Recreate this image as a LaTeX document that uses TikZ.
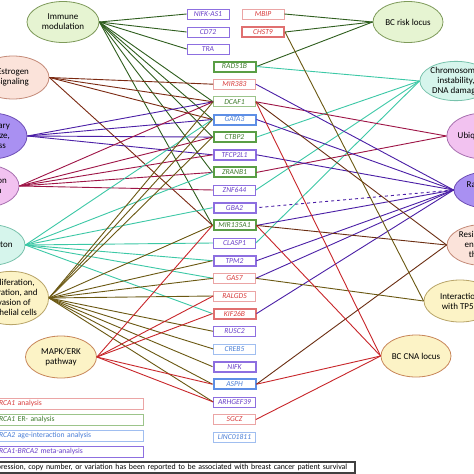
\documentclass[tikz,border=0pt]{standalone}
\usepackage{fontspec}
\setmainfont{Carlito}
\usetikzlibrary{shapes.geometric}
\definecolor{immln}{HTML}{2F5E1E}
\definecolor{estln}{HTML}{7B2A12}
\definecolor{indln}{HTML}{4B1FA6}
\definecolor{crmln}{HTML}{9E1446}
\definecolor{tealln}{HTML}{3CC8A6}
\definecolor{olvln}{HTML}{6B5812}
\definecolor{mapln}{HTML}{C8262A}
\definecolor{resln}{HTML}{6B2E12}
\definecolor{purpbd}{HTML}{8D6FE0}
\definecolor{purptx}{HTML}{6A40C8}
\definecolor{redbd}{HTML}{E07070}
\definecolor{redbdl}{HTML}{EBA5A5}
\definecolor{redtx}{HTML}{D83C3C}
\definecolor{grnbd}{HTML}{5A9E45}
\definecolor{grnbdl}{HTML}{9CC48A}
\definecolor{grntx}{HTML}{3E7A2C}
\definecolor{blubd}{HTML}{5E8FE6}
\definecolor{blubdl}{HTML}{A0BEF0}
\definecolor{blutx}{HTML}{4A7ED6}
\definecolor{lgrn}{HTML}{E6F4D2}
\definecolor{lgrnbd}{HTML}{7E9A5A}
\definecolor{peach}{HTML}{FBE3DA}
\definecolor{peachbd}{HTML}{C48A78}
\definecolor{lpurp}{HTML}{A990F2}
\definecolor{lpurpbd}{HTML}{6E4EB6}
\definecolor{lpink}{HTML}{F2C2F0}
\definecolor{lpinkbd}{HTML}{A870B0}
\definecolor{lcyan}{HTML}{D6F5EC}
\definecolor{lcyanbd}{HTML}{78C2AC}
\definecolor{lyel}{HTML}{FCF3C6}
\definecolor{lyelbd}{HTML}{B8A468}
\definecolor{mapbd}{HTML}{C8865A}
\tikzset{
  ell/.style={ellipse,draw,line width=0.8pt,inner sep=0pt,align=center,
    font=\fontsize{9}{10}\selectfont},
  gene/.style={rectangle,draw,fill=white,minimum width=42pt,minimum height=10pt,
    inner sep=0pt,font=\fontsize{7.6}{8}\selectfont\itshape},
  pgene/.style={gene,draw=purpbd,text=purptx,line width=0.7pt},
  pgeneT/.style={gene,draw=purpbd,text=purptx,line width=2pt},
  rgene/.style={gene,draw=redbdl,text=redtx,line width=0.7pt},
  rgeneT/.style={gene,draw=redbd,text=redtx,line width=2pt},
  ggene/.style={gene,draw=grnbdl,text=grntx,line width=0.7pt},
  ggeneT/.style={gene,draw=grnbd,text=grntx,line width=2pt},
  bgene/.style={gene,draw=blubdl,text=blutx,line width=0.7pt},
  bgeneT/.style={gene,draw=blubd,text=blutx,line width=2pt},
  legbox/.style={rectangle,draw,line width=0.8pt,anchor=west,minimum width=151pt,
    minimum height=11pt,text width=146pt,inner xsep=2.5pt,inner ysep=0pt,align=left,
    font=\fontsize{7.6}{8}\selectfont},
  link/.style={line width=0.9pt}
}
\begin{document}
\begin{tikzpicture}[x=1pt,y=-1pt]
\useasboundingbox (0,0) rectangle (474,474);
\clip (0,0) rectangle (474,474);
\fill[white] (0,0) rectangle (474,474);
% categories, left
\node (imm) [ell,fill=lgrn,draw=lgrnbd,minimum width=72pt,minimum height=41pt] at (63,22) {Immune\\modulation};
\node (est) [ell,fill=peach,draw=peachbd,minimum width=72pt,minimum height=43pt] at (13,77.5) {Estrogen\\signaling};
\node (mam) [ell,fill=lpurp,draw=lpurpbd,minimum width=72pt,minimum height=46pt] at (-9,136) {Mammary\\gland size,\\stiffness};
\node (prt) [ell,fill=lpink,draw=lpinkbd,minimum width=72pt,minimum height=43pt] at (-17,186) {Transcription\\regulation};
\node (cyt) [ell,fill=lcyan,draw=lcyanbd,minimum width=72pt,minimum height=41pt] at (-11,245) {Cytoskeleton};
\node (prol) [ell,fill=lyel,draw=lyelbd,minimum width=74pt,minimum height=42pt] at (11,298) {Proliferation,\\migration, and\\invasion of\\epithelial cells};
\node (mapk) [ell,fill=lyel,draw=mapbd,minimum width=71pt,minimum height=42pt] at (61,357) {MAPK/ERK\\pathway};
% categories, right
\node (risk) [ell,fill=lgrn,draw=lgrnbd,minimum width=70pt,minimum height=41pt] at (408,22) {BC risk locus};
\node (chrom) [ell,fill=lcyan,draw=lcyanbd,minimum width=72pt,minimum height=39pt] at (456,81) {Chromosomal\\instability,\\DNA damage};
\node (ubq) [ell,fill=lpink,draw=lpinkbd,minimum width=74pt,minimum height=46pt] at (484,136) {Ubiquitination};
\node (ras) [ell,fill=lpurp,draw=lpurpbd,minimum width=72pt,minimum height=37pt] at (490,190) {Ras signaling\\pathway};
\node (resi) [ell,fill=peach,draw=peachbd,minimum width=72pt,minimum height=41pt] at (483,245) {Resistance to\\endocrine\\therapy};
\node (tp) [ell,fill=lyel,draw=lyelbd,minimum width=72pt,minimum height=42pt] at (460,301) {Interaction\\with TP53};
\node (cna) [ell,fill=lyel,draw=mapbd,minimum width=70pt,minimum height=42pt] at (416,356) {BC CNA locus};
% genes
\node (nifkas) [pgene] at (208,14) {NIFK-AS1};
\node (cd72) [pgene] at (208,32) {CD72};
\node (tra) [pgene] at (208,49) {TRA};
\node (mbip) [rgene] at (263,14) {MBIP};
\node (chst) [rgeneT] at (263,32) {CHST9};
\node (rad) [ggeneT] at (234.5,66.5) {RAD51B};
\node (mir383) [rgene] at (234.5,84.2) {MIR383};
\node (dcaf) [ggene] at (234.5,101.8) {DCAF1};
\node (gata) [bgeneT] at (234.5,119.5) {GATA3};
\node (ctbp) [ggeneT] at (234.5,137.1) {CTBP2};
\node (tfcp) [pgeneT] at (234.5,154.8) {TFCP2L1};
\node (zranb) [ggeneT] at (234.5,172.4) {ZRANB1};
\node (znf) [pgene] at (234.5,190) {ZNF644};
\node (gba) [pgeneT] at (234.5,207.7) {GBA2};
\node (mir135) [ggeneT] at (234.5,225.4) {MIR135A1};
\node (clasp) [pgene] at (234.5,243) {CLASP1};
\node (tpm) [pgeneT] at (234.5,260.7) {TPM2};
\node (gas) [rgene] at (234.5,278.3) {GAS7};
\node (ral) [rgene] at (234.5,296) {RALGDS};
\node (kif) [rgeneT] at (234.5,313.6) {KIF26B};
\node (rusc) [pgene] at (234.5,331.3) {RUSC2};
\node (creb) [bgene] at (234.5,348.9) {CREB5};
\node (nifk) [pgeneT] at (234.5,366.6) {NIFK};
\node (asph) [bgeneT] at (234.5,384.2) {ASPH};
\node (arhg) [pgene] at (234.5,401.9) {ARHGEF39};
\node (sgcz) [rgene] at (234.5,419.5) {SGCZ};
\node (linc) [bgene] at (234.5,437.2) {LINC01811};
%
\path[link,immln] (imm.east) edge (nifkas.west) edge (cd72.west) edge (tra.west) edge (dcaf.west)
  edge (gata.west) edge (ctbp.west) edge (zranb.west) edge (mir135.west);
\path[link,estln] (est.east) edge (mir383.west) edge (dcaf.west) edge (gata.west) edge (mir135.west);
\path[link,indln] (mam.east) edge (dcaf.west) edge (gata.west) edge (ctbp.west) edge (tfcp.west);
\path[link,crmln] (prt.east) edge (dcaf.west) edge (ctbp.west) edge (tfcp.west) edge (zranb.west) edge (znf.west);
\path[link,tealln] (cyt.east) edge (gata.west) edge (zranb.west) edge (gba.west) edge (clasp.west)
  edge (tpm.west) edge (gas.west) edge (kif.west);
\path[link,olvln] (prol.east) edge (dcaf.west) edge (gata.west) edge (ctbp.west) edge (mir135.west)
  edge (tpm.west) edge (gas.west) edge (ral.west) edge (rusc.west) edge (creb.west)
  edge (nifk.west) edge (asph.west) edge (arhg.west);
\path[link,mapln] (mapk.east) edge (mir135.west) edge (ral.west) edge (kif.west) edge (asph.west) edge (arhg.west);
%
\path[link,immln] (risk.west) edge (mbip.east) edge (chst.east) edge (rad.east);
\path[link,tealln] (chrom.west) edge (rad.east) edge (ctbp.east) edge (znf.east) edge (clasp.east);
\path[link,crmln] (ubq.west) edge (dcaf.east) edge (zranb.east);
\path[link,indln] (ras.west) edge (mir383.east) edge (gata.east) edge (tfcp.east) edge (mir135.east)
  edge (tpm.east) edge (gas.east) edge (kif.east);
\path[link,indln,dashed] (ras.west) edge (gba.east);
\path[link,resln] (resi.west) edge (dcaf.east) edge (mir135.east) edge (asph.east);
\path[link,olvln] (tp.west) edge (chst.east) edge (gas.east);
\path[link,mapln] (cna.west) edge (dcaf.east) edge (mir135.east) edge (asph.east) edge (sgcz.east);
% legend
\node (legr) [legbox,draw=redbdl,text=redtx] at (-8,403.5) {\textit{BRCA1} analysis};
\node (legg) [legbox,draw=grnbdl,text=grntx] at (-8,419.5) {\textit{BRCA1} ER- analysis};
\node (legb) [legbox,draw=blubdl,text=blutx] at (-8,435.5) {\textit{BRCA2} age-interaction analysis};
\node (legp) [legbox,draw=purpbd,text=purptx] at (-8,451.5) {\textit{BRCA1-BRCA2} meta-analysis};
\node (note) [rectangle,draw=black!75,line width=1.5pt,anchor=west,minimum height=11pt,inner xsep=3pt,inner ysep=0pt,
  text width=362pt,align=left,font=\fontsize{7.85}{8}\selectfont] at (-14,467.5) {Expression, copy number, or variation has been reported to be associated with breast cancer patient survival};
\end{tikzpicture}
\end{document}
